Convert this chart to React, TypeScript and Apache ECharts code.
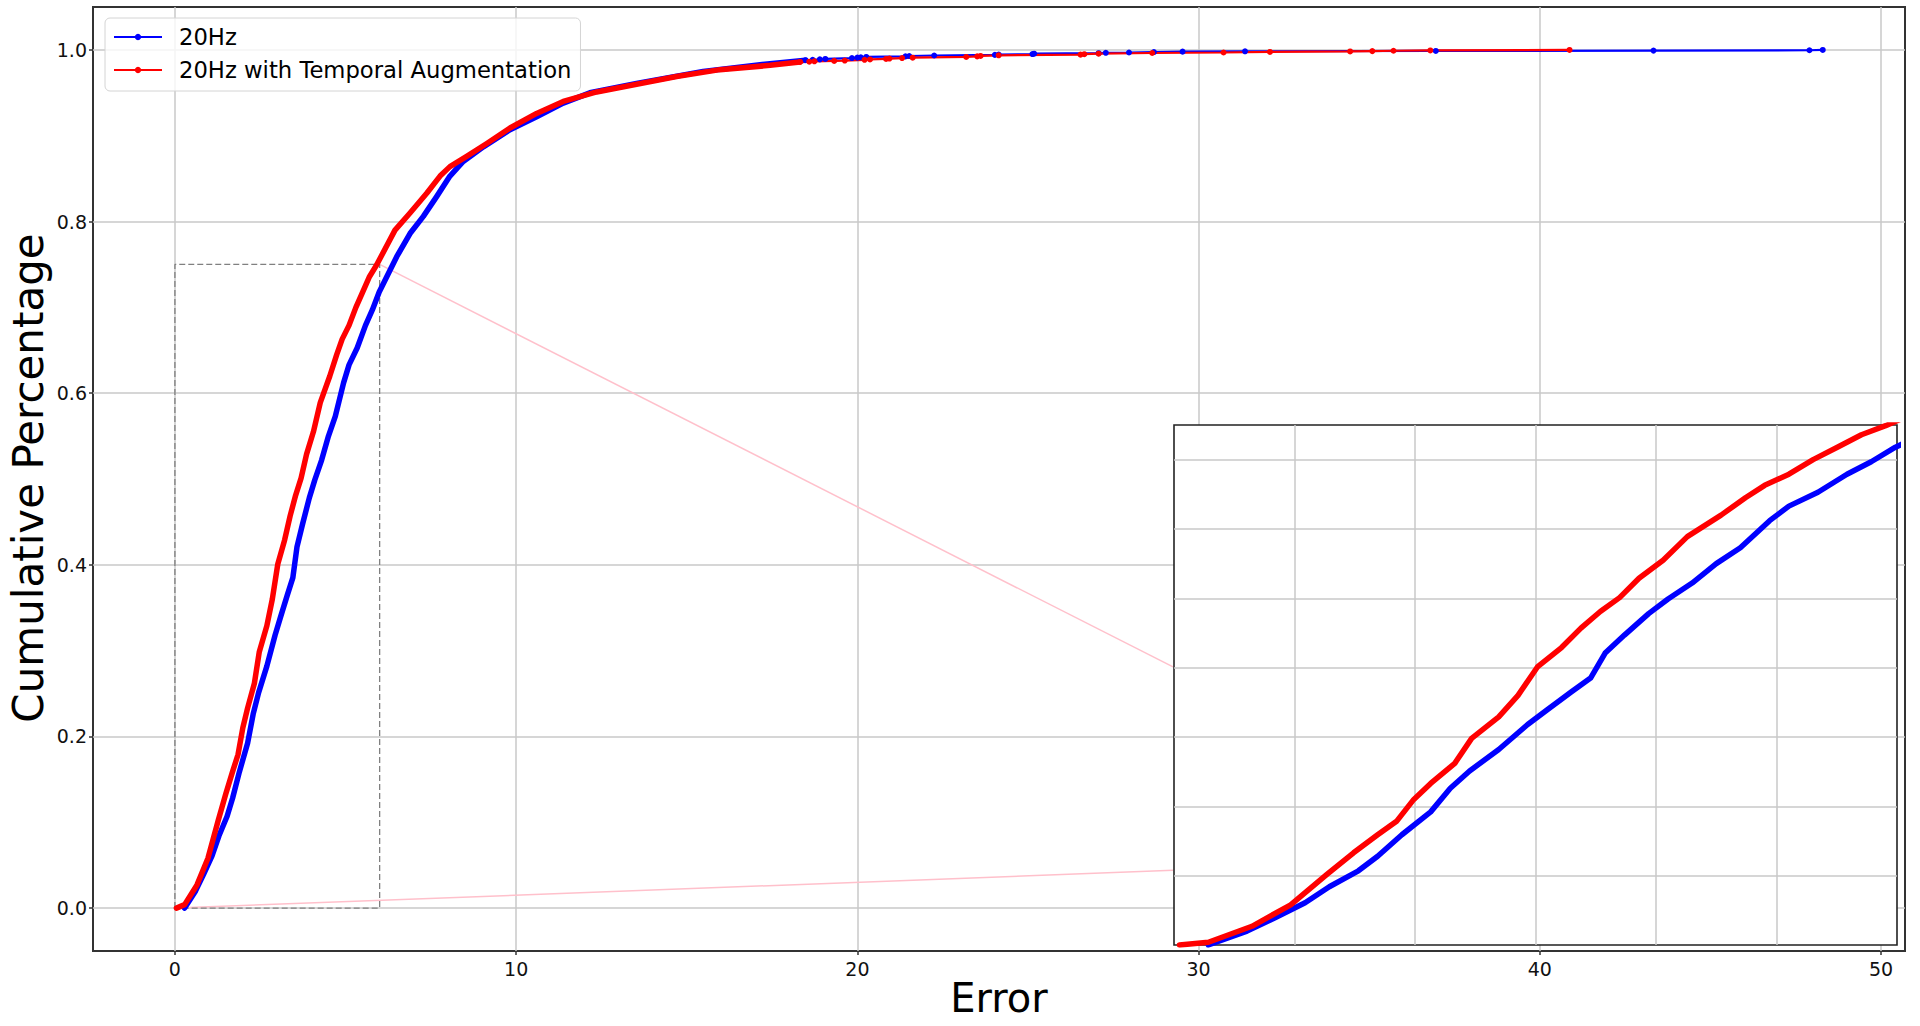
import React, { useEffect, useRef } from "react";
import * as echarts from "echarts";

const FONT = "DejaVu Sans";

// ---- tick / grid values ----
const xTickValues = [0, 10, 20, 30, 40, 50];
const yTickValues = [0, 0.2, 0.4, 0.6, 0.8, 1.0];
const insetXGrid = [1, 2, 3, 4, 5];
const insetYGrid = [0.1, 0.2, 0.3, 0.4, 0.5, 0.6, 0.7];

// ---- zoomed region shown in the inset ----
const zoomXRange = [0, 6];
const zoomYRange = [0, 0.75];
// where the pink connector lines meet the inset's left edge (main-axis data coords)
const connectorEnds = [
  [29.25, 0.281],
  [29.25, 0.044],
];

const seriesNames = ["20Hz", "20Hz with Temporal Augmentation"];
const seriesColors = ["#0000ff", "#ff0000"];

// x beyond which markers are sparse (thin line with dots)
const denseEnd = 18.0;

// ---- cumulative curves: [error, cumulative fraction] ----
const blueCdf: number[][] = [
  [0.285, 0], [0.606, 0.02], [0.847, 0.04], [1.088, 0.061], [1.289, 0.084],
  [1.53, 0.107], [1.69, 0.128], [1.891, 0.159], [2.13, 0.192], [2.293, 0.226],
  [2.453, 0.251], [2.695, 0.282], [2.935, 0.318], [3.095, 0.339], [3.296, 0.365],
  [3.457, 0.385], [3.578, 0.421], [3.738, 0.447], [3.939, 0.478], [4.1, 0.499],
  [4.3, 0.522], [4.5, 0.55], [4.7, 0.573], [4.943, 0.612], [5.103, 0.633],
  [5.344, 0.653], [5.585, 0.679], [5.786, 0.697], [5.987, 0.718], [6.5, 0.759],
  [6.89, 0.786], [7.28, 0.806], [7.67, 0.829], [8.06, 0.853], [8.45, 0.87],
  [9.04, 0.887], [9.82, 0.907], [10.6, 0.922], [11.38, 0.938], [12.16, 0.95],
  [13.53, 0.961], [15.48, 0.975], [17.44, 0.984],
  [18.48, 0.988], [18.69, 0.9884], [18.9, 0.989], [19.06, 0.9895], [19.84, 0.9905],
  [20.0, 0.991], [20.1, 0.9914], [20.26, 0.9918], [21.41, 0.9925], [21.52, 0.9929],
  [22.25, 0.9935], [24.03, 0.9942], [24.14, 0.9946], [25.13, 0.9952], [25.18, 0.9956],
  [27.07, 0.9962], [27.28, 0.9966], [27.96, 0.997], [28.69, 0.9975], [29.53, 0.998],
  [31.36, 0.9984], [36.95, 0.9988], [43.33, 0.9992], [47.9, 0.9996], [48.29, 1.0],
];

const redCdf: number[][] = [
  [0.045, 0], [0.285, 0.004], [0.647, 0.027], [0.968, 0.058], [1.269, 0.102],
  [1.49, 0.133], [1.69, 0.159], [1.85, 0.179], [1.99, 0.21], [2.13, 0.233],
  [2.33, 0.262], [2.47, 0.298], [2.695, 0.329], [2.855, 0.36], [3.016, 0.401],
  [3.216, 0.429], [3.377, 0.457], [3.538, 0.481], [3.698, 0.501], [3.859, 0.529],
  [4.059, 0.555], [4.26, 0.589], [4.54, 0.62], [4.742, 0.645], [4.902, 0.663],
  [5.103, 0.679], [5.304, 0.7], [5.505, 0.718], [5.705, 0.736], [5.906, 0.749],
  [6.45, 0.79], [6.89, 0.81], [7.38, 0.833], [7.77, 0.853], [8.06, 0.864],
  [8.55, 0.876], [9.14, 0.891], [9.82, 0.909], [10.6, 0.926], [11.38, 0.94],
  [12.36, 0.951], [13.53, 0.96], [14.7, 0.969], [15.97, 0.977], [17.44, 0.982],
  [18.32, 0.986], [18.59, 0.9863], [18.74, 0.9867], [19.32, 0.9872], [19.63, 0.9876],
  [20.21, 0.9885], [20.37, 0.9889], [20.84, 0.9895], [20.94, 0.9899], [21.31, 0.9905],
  [21.62, 0.9909], [23.19, 0.9918], [23.51, 0.9925], [23.61, 0.993], [24.14, 0.9937],
  [26.54, 0.9945], [26.65, 0.995], [27.07, 0.9956], [28.64, 0.9964], [30.73, 0.997],
  [32.09, 0.9976], [34.44, 0.9982], [35.09, 0.9986], [35.71, 0.999], [36.79, 0.9994],
  [40.87, 1.0],
];

const curves = [blueCdf, redCdf];

function splitDense(pts: number[][]) {
  let idx = pts.findIndex((p) => p[0] > denseEnd);
  if (idx < 0) idx = pts.length - 1;
  return { dense: pts.slice(0, idx + 1), tail: pts.slice(idx) };
}

function buildOption() {
  const gridLine = { color: "#c8c8c8", width: 1.5 };
  const tickStyle = { color: "#333", width: 1.5 };
  const labelBase = { fontSize: 19, fontFamily: FONT, color: "#111" };

  const series: any[] = [];

  // connector lines (pink)
  const corners = [
    [zoomXRange[1], zoomYRange[1]],
    [zoomXRange[0], zoomYRange[0]],
  ];
  corners.forEach((c, i) => {
    series.push({
      type: "line",
      name: "connector" + i,
      xAxisIndex: 0,
      yAxisIndex: 0,
      data: [c, connectorEnds[i]],
      symbol: "none",
      silent: true,
      z: 1,
      lineStyle: { color: "#ffc0cb", width: 1.5 },
    });
  });

  // dashed zoom rectangle
  series.push({
    type: "line",
    name: "zoombox",
    xAxisIndex: 0,
    yAxisIndex: 0,
    data: [
      [zoomXRange[0], zoomYRange[0]],
      [zoomXRange[0], zoomYRange[1]],
      [zoomXRange[1], zoomYRange[1]],
      [zoomXRange[1], zoomYRange[0]],
      [zoomXRange[0], zoomYRange[0]],
    ],
    symbol: "none",
    silent: true,
    z: 1,
    lineStyle: { color: "#808080", width: 1.3, type: [6, 3] },
  });

  // main curves: thick dense part
  curves.forEach((pts, i) => {
    const { dense } = splitDense(pts);
    series.push({
      type: "line",
      name: "dense" + i,
      xAxisIndex: 0,
      yAxisIndex: 0,
      data: dense,
      symbol: "none",
      silent: true,
      z: 3,
      lineStyle: { color: seriesColors[i], width: 5.5, cap: "round", join: "round" },
    });
  });
  // main curves: sparse tail with dots (these carry the legend names)
  curves.forEach((pts, i) => {
    const { tail } = splitDense(pts);
    series.push({
      type: "line",
      name: seriesNames[i],
      xAxisIndex: 0,
      yAxisIndex: 0,
      data: tail,
      symbol: "circle",
      symbolSize: 6,
      showSymbol: true,
      showAllSymbol: true,
      silent: true,
      z: 3,
      itemStyle: { color: seriesColors[i] },
      lineStyle: { color: seriesColors[i], width: 2.2 },
    });
  });

  // inset curves
  curves.forEach((pts, i) => {
    series.push({
      type: "line",
      name: "inset" + i,
      xAxisIndex: 1,
      yAxisIndex: 1,
      data: pts,
      symbol: "none",
      silent: true,
      clip: true,
      z: 12,
      lineStyle: { color: seriesColors[i], width: 5.5, cap: "round", join: "round" },
    });
  });

  return {
    animation: false,
    backgroundColor: "#fff",
    textStyle: { fontFamily: FONT },
    grid: [
      {
        left: 93,
        top: 7,
        width: 1812,
        height: 944,
        show: true,
        backgroundColor: "#fff",
        borderColor: "#333",
        borderWidth: 2,
      },
      {
        left: 1174,
        top: 425,
        width: 723,
        height: 520,
        show: true,
        backgroundColor: "#fff",
        borderColor: "#222",
        borderWidth: 1.6,
        z: 10,
      },
    ],
    xAxis: [
      {
        type: "value",
        gridIndex: 0,
        min: -2.4,
        max: 50.7,
        axisLine: { show: false, onZero: false },
        axisTick: { show: true, length: 4, customValues: xTickValues, lineStyle: tickStyle },
        axisLabel: { ...labelBase, customValues: xTickValues, margin: 8 },
        splitLine: { show: true, lineStyle: gridLine },
      },
      {
        type: "value",
        gridIndex: 1,
        min: zoomXRange[0],
        max: zoomXRange[1],
        z: 11,
        axisLine: { show: false, onZero: false },
        axisTick: { show: false, customValues: insetXGrid },
        axisLabel: { show: false, customValues: insetXGrid },
        splitLine: { show: true, lineStyle: gridLine },
      },
    ],
    yAxis: [
      {
        type: "value",
        gridIndex: 0,
        min: -0.05,
        max: 1.05,
        axisLine: { show: false, onZero: false },
        axisTick: { show: true, length: 4, customValues: yTickValues, lineStyle: tickStyle },
        axisLabel: {
          ...labelBase,
          customValues: yTickValues,
          margin: 6,
          formatter: (v: number) => v.toFixed(1),
        },
        splitLine: { show: true, lineStyle: gridLine },
      },
      {
        type: "value",
        gridIndex: 1,
        min: zoomYRange[0],
        max: zoomYRange[1],
        z: 11,
        axisLine: { show: false, onZero: false },
        axisTick: { show: false, customValues: insetYGrid },
        axisLabel: { show: false, customValues: insetYGrid },
        splitLine: { show: true, lineStyle: gridLine },
      },
    ],
    legend: {
      data: seriesNames,
      orient: "vertical",
      left: 105,
      top: 18,
      padding: [7, 9, 9, 8],
      itemWidth: 48,
      itemHeight: 8,
      itemGap: 9,
      backgroundColor: "rgba(255,255,255,0.8)",
      borderColor: "#d4d4d4",
      borderWidth: 1,
      borderRadius: 5,
      lineStyle: { width: 2 },
      textStyle: {
        fontSize: 22.7,
        lineHeight: 24,
        fontFamily: FONT,
        color: "#000",
        padding: [0, 0, 0, 12],
      },
      selectedMode: false,
    },
    graphic: [
      {
        type: "text",
        x: 28,
        y: 478,
        rotation: Math.PI / 2,
        silent: true,
        style: {
          text: "Cumulative Percentage",
          fontSize: 42,
          fontFamily: FONT,
          fill: "#000",
          align: "center",
          verticalAlign: "middle",
        },
      },
      {
        type: "text",
        x: 999,
        y: 998,
        silent: true,
        style: {
          text: "Error",
          fontSize: 40,
          fontFamily: FONT,
          fill: "#000",
          align: "center",
          verticalAlign: "middle",
        },
      },
    ],
    series,
  };
}

export default function App() {
  const ref = useRef<HTMLDivElement>(null);
  useEffect(() => {
    if (!ref.current) return;
    const chart = echarts.init(ref.current, null, { renderer: "svg" });
    chart.setOption(buildOption() as any);
    return () => chart.dispose();
  }, []);
  return (
    <div
      ref={ref}
      style={{
        position: "fixed",
        left: 0,
        top: 0,
        width: 1920,
        height: 1026,
        background: "#fff",
      }}
    />
  );
}
